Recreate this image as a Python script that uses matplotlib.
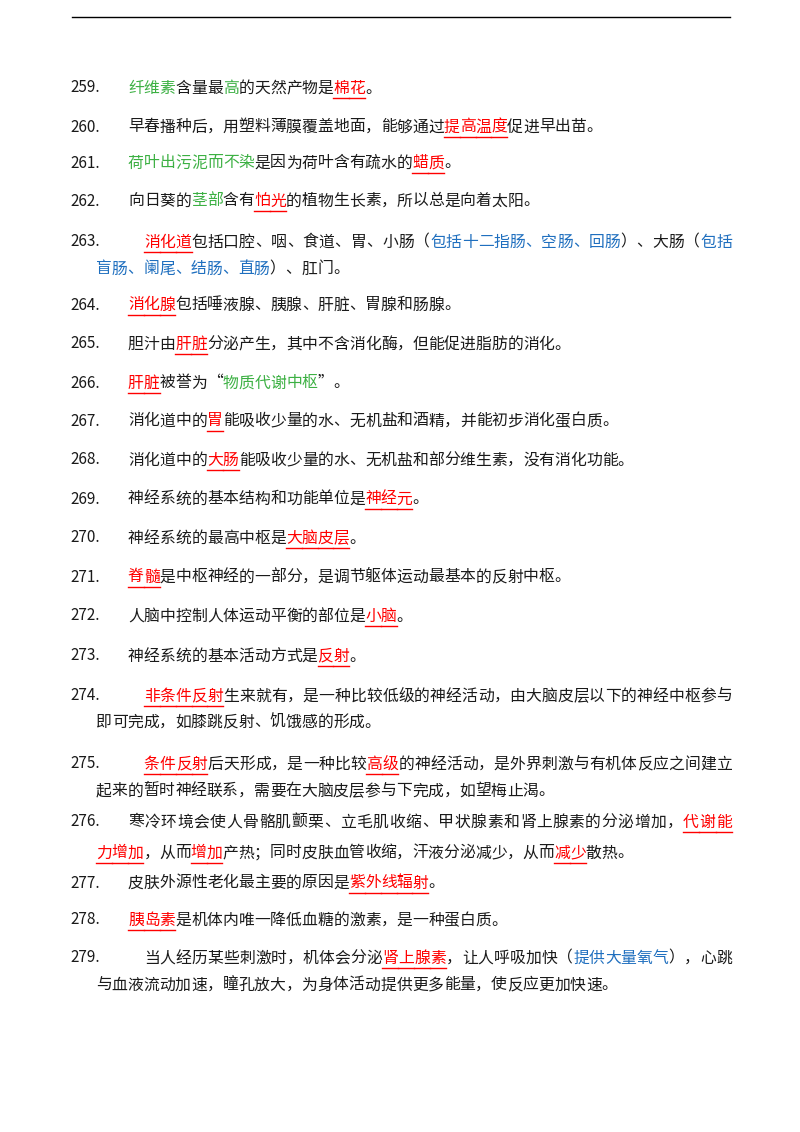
import re
import matplotlib
matplotlib.use("Agg")
import matplotlib.pyplot as plt

plt.rcParams['font.family'] = ['Noto Sans CJK SC', 'DejaVu Sans']

GREEN = "#3cb043"
RED = "#ff0000"
BLUE = "#1f6fbf"
BLACK = "#1a1a1a"

# item number, list of lines (markup: {g..} green, {r..} red underlined, {b..} blue)
numbers = list(range(259, 280))
items = [
    ["{g纤维素}含量最{g高}的天然产物是{r棉花}。"],
    ["早春播种后，用塑料薄膜覆盖地面，能够通过{r提高温度}促进早出苗。"],
    ["{g荷叶出污泥而不染}是因为荷叶含有疏水的{r蜡质}。"],
    ["向日葵的{g茎部}含有{r怕光}的植物生长素，所以总是向着太阳。"],
    [" {r消化道}包括口腔、咽、食道、胃、小肠（{b包括十二指肠、空肠、回肠}）、大肠（{b包括}",
     "{b盲肠、阑尾、结肠、直肠}）、肛门。"],
    ["{r消化腺}包括唾液腺、胰腺、肝脏、胃腺和肠腺。"],
    ["胆汁由{r肝脏}分泌产生，其中不含消化酶，但能促进脂肪的消化。"],
    ["{r肝脏}被誉为“{g物质代谢中枢}”。"],
    ["消化道中的{r胃}能吸收少量的水、无机盐和酒精，并能初步消化蛋白质。"],
    ["消化道中的{r大肠}能吸收少量的水、无机盐和部分维生素，没有消化功能。"],
    ["神经系统的基本结构和功能单位是{r神经元}。"],
    ["神经系统的最高中枢是{r大脑皮层}。"],
    ["{r脊髓}是中枢神经的一部分，是调节躯体运动最基本的反射中枢。"],
    ["人脑中控制人体运动平衡的部位是{r小脑}。"],
    ["神经系统的基本活动方式是{r反射}。"],
    [" {r非条件反射}生来就有，是一种比较低级的神经活动，由大脑皮层以下的神经中枢参与",
     "即可完成，如膝跳反射、饥饿感的形成。"],
    [" {r条件反射}后天形成，是一种比较{r高级}的神经活动，是外界刺激与有机体反应之间建立",
     "起来的暂时神经联系，需要在大脑皮层参与下完成，如望梅止渴。"],
    ["寒冷环境会使人骨骼肌颤栗、立毛肌收缩、甲状腺素和肾上腺素的分泌增加，{r代谢能}",
     "{r力增加}，从而{r增加}产热；同时皮肤血管收缩，汗液分泌减少，从而{r减少}散热。"],
    ["皮肤外源性老化最主要的原因是{r紫外线辐射}。"],
    ["{r胰岛素}是机体内唯一降低血糖的激素，是一种蛋白质。"],
    [" 当人经历某些刺激时，机体会分泌{r肾上腺素}，让人呼吸加快（{b提供大量氧气}），心跳",
     "与血液流动加速，瞳孔放大，为身体活动提供更多能量，使反应更加快速。"],
]
line_y = [[88], [127], [163], [201], [242, 269], [305], [344], [383], [421], [460],
          [499], [538], [577], [616], [656], [696, 722], [764, 791], [822, 853],
          [883], [920], [958, 985]]


def parse(s):
    out = []
    for m in re.finditer(r"\{([grb])([^}]*)\}|([^{]+)", s):
        if m.group(3):
            out.extend((c, "k") for c in m.group(3))
        else:
            out.extend((c, m.group(1)) for c in m.group(2))
    return out


fig = plt.figure(figsize=(8, 11.32), dpi=100)
ax = fig.add_axes([0, 0, 1, 1])
ax.set_xlim(0, 800)
ax.set_ylim(1132, 0)
ax.axis("off")
ax.plot([72, 730], [17, 17], color="black", lw=1)

colors = {"k": BLACK, "g": GREEN, "r": RED, "b": BLUE}
adv = 15.8
for num, lines, ys in zip(numbers, items, line_y):
    ax.text(70, ys[0], f"{num}.", fontsize=11, color=BLACK, va="center", ha="left")
    for i, (ln, y) in enumerate(zip(lines, ys)):
        chars = parse(ln)
        x0 = 128 if i == 0 else 96
        step = adv
        if len(lines) > 1 and i == 0:
            step = (732 - x0) / len(chars)
        for j, (c, k) in enumerate(chars):
            x = x0 + j * step
            ax.text(x, y, c, fontsize=11.4, color=colors[k], va="center", ha="left")
            if k == "r":
                ax.plot([x, x + step], [y + 10, y + 10], color=RED, lw=1)

fig.savefig("out.png", dpi=100)
